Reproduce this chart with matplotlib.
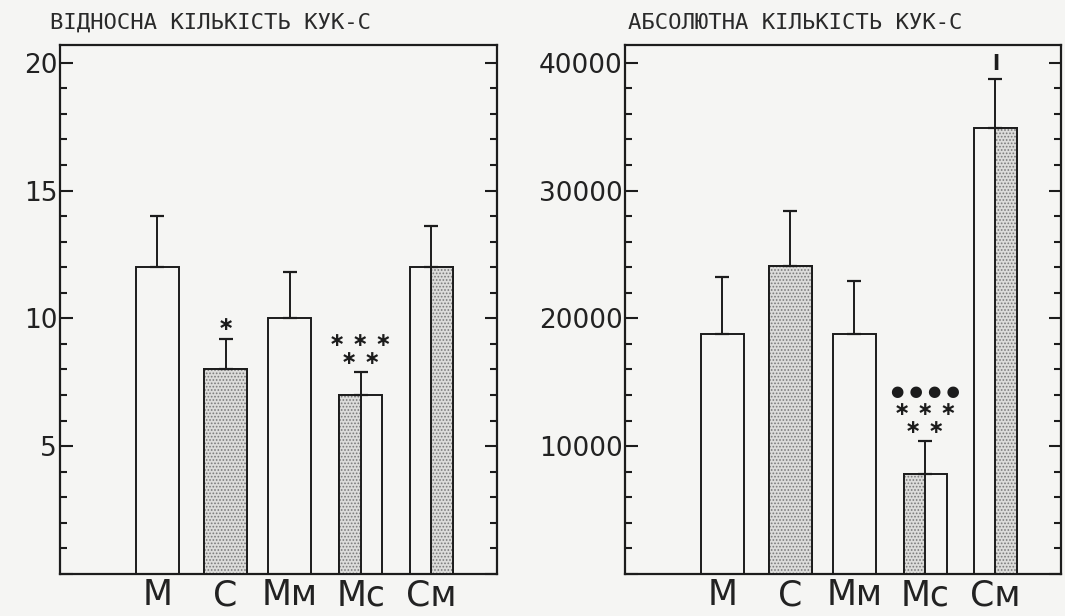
import matplotlib
matplotlib.use('Agg')
import matplotlib.pyplot as plt
from matplotlib.ticker import MultipleLocator, FuncFormatter
import numpy as np

# ---------------- data ----------------
categories = ['М', 'С', 'Мм', 'Мс', 'См']
rel_values = [12.0, 8.0, 10.0, 7.0, 12.0]
rel_err = [2.0, 1.2, 1.8, 0.9, 1.6]
abs_values = [18800, 24100, 18800, 7800, 34900]
abs_err = [4400, 4300, 4100, 2600, 3800]
rel_marks = [[], ['∗'], [], ['∗ ∗', '∗ ∗ ∗'], []]
abs_marks = [[], [], [], ['∗ ∗', '∗ ∗ ∗', '● ● ● ●'], []]
stipple = ['none', 'full', 'none', 'left', 'right']
titles = ['ВІДНОСНА КІЛЬКІСТЬ КУК-С', 'АБСОЛЮТНА КІЛЬКІСТЬ КУК-С']

# ---------------- style ----------------
BG = '#f5f5f3'
INK = '#1c1c1c'
plt.rcParams['hatch.linewidth'] = 0.8
plt.rcParams['font.family'] = ['DejaVu Sans']

positions = [1.37, 2.33, 3.23, 4.23, 5.22]
width = 0.6

fig = plt.figure(figsize=(10.65, 6.16), dpi=100, facecolor=BG)
ax1 = fig.add_axes([0.0563, 0.0682, 0.410, 0.859])
ax2 = fig.add_axes([0.587, 0.0682, 0.409, 0.859])


def draw_panel(ax, values, errs, marks, ymax, major, minor, title, title_x):
    ax.set_facecolor(BG)
    for x, v, st in zip(positions, values, stipple):
        ax.bar(x, v, width=width, facecolor=BG, edgecolor=INK, linewidth=1.4, zorder=2)
        if st != 'none':
            if st == 'full':
                sx, sw = x, width
            elif st == 'left':
                sx, sw = x - width / 4, width / 2
            else:
                sx, sw = x + width / 4, width / 2
            ax.bar(sx, v, width=sw, facecolor='#dcdcda', edgecolor='#7a7a7a',
                   linewidth=0, hatch='.....', zorder=3)
            ax.bar(sx, v, width=sw, fill=False, edgecolor=INK, linewidth=1.4, zorder=4)
    ax.errorbar(positions, values, yerr=[np.zeros(len(values)), errs], fmt='none',
                ecolor=INK, elinewidth=1.4, capsize=5, capthick=1.6, zorder=5)
    offsets = [10, 23, 36]
    for x, v, e, mk in zip(positions, values, errs, marks):
        for i, s in enumerate(mk):
            fs = 11 if '●' in s else 14
            ax.annotate(s, xy=(x, v + e), xytext=(0, offsets[i]), textcoords='offset points',
                        ha='center', va='center', fontsize=fs, fontweight='bold',
                        color=INK, zorder=6)
    ax.set_xlim(0, 6.14)
    ax.set_ylim(0, ymax)
    ax.yaxis.set_major_locator(MultipleLocator(major))
    ax.yaxis.set_minor_locator(MultipleLocator(minor))
    ax.yaxis.set_major_formatter(FuncFormatter(lambda v, p: '' if v == 0 else f'{v:.0f}'))
    ax.tick_params(axis='y', which='both', direction='in', left=True, right=True,
                   width=1.5, color=INK, labelsize=19, pad=2, labelcolor='#222222')
    ax.tick_params(axis='y', which='major', length=9)
    ax.tick_params(axis='y', which='minor', length=5)
    ax.set_xticks(positions)
    ax.set_xticklabels(categories, fontsize=25, color='#222222')
    ax.tick_params(axis='x', length=0, pad=3)
    for sp in ax.spines.values():
        sp.set_linewidth(1.6)
        sp.set_color(INK)
    fig.text(title_x, 0.963, title, fontsize=16, family='DejaVu Sans Mono',
             ha='left', va='center', color='#2a2a2a')


draw_panel(ax1, rel_values, rel_err, rel_marks, 20.7, 5, 1, titles[0], 0.047)
draw_panel(ax2, abs_values, abs_err, abs_marks, 41400, 10000, 2000, titles[1], 0.590)

# small bold mark above the tallest error bar in the right panel
ax2.annotate('l', xy=(positions[4], abs_values[4] + abs_err[4]), xytext=(0, 4),
             textcoords='offset points', ha='center', va='bottom', fontsize=15,
             fontweight='bold', color=INK)

fig.savefig('out.png', dpi=100, facecolor=BG)
